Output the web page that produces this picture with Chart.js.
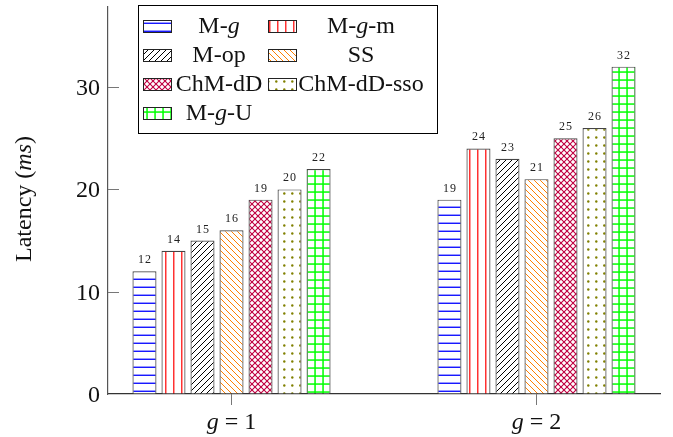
<!DOCTYPE html>
<html><head><meta charset="utf-8">
<script src="https://cdn.jsdelivr.net/npm/chart.js@4.4.1/dist/chart.umd.min.js"></script>
<style>html,body{margin:0;padding:0;background:#fff;} #wrap{width:673px;height:437px;}</style>
</head><body><div id="wrap"><canvas id="c" width="673" height="437"></canvas></div>
<script>
// ---- data ----
const categories = [1, 2];
const categoryLabels = ['1', '2'];
const seriesNames = ['M-g', 'M-g-m', 'M-op', 'SS', 'ChM-dD', 'ChM-dD-sso', 'M-g-U'];
const valuesMg = [12, 19];
const valuesMgm = [14, 24];
const valuesMop = [15, 23];
const valuesSS = [16, 21];
const valuesChMdD = [19, 25];
const valuesChMdDsso = [20, 26];
const valuesMgU = [22, 32];
const yTicks = [0, 10, 20, 30];
const yMax = 37.83;
const xMin = 0.595, xMax = 2.405;
const seriesValues = [valuesMg, valuesMgm, valuesMop, valuesSS, valuesChMdD, valuesChMdDsso, valuesMgU];

// ---- patterns ----
function makePattern(size, draw) {
  const c = document.createElement('canvas');
  c.width = size; c.height = size;
  const g = c.getContext('2d');
  g.fillStyle = '#fff'; g.fillRect(0, 0, size, size);
  draw(g, size);
  return c.getContext('2d').createPattern(c, 'repeat');
}
function diag(g, s, dir, color, lw) {
  g.strokeStyle = color; g.lineWidth = lw;
  g.beginPath();
  for (let k = -1; k <= 1; k++) {
    if (dir > 0) { g.moveTo(k * s - 1, s + 1); g.lineTo(k * s + s + 1, -1); }
    else { g.moveTo(k * s - 1, -1); g.lineTo(k * s + s + 1, s + 1); }
  }
  g.stroke();
}
const patterns = [
  makePattern(8, (g) => { g.fillStyle = '#0000ff'; g.fillRect(0, 6.6, 8, 1.3); }),
  makePattern(8, (g) => { g.fillStyle = '#ff0000'; g.fillRect(5.2, 0, 1.2, 8); }),
  makePattern(6, (g, s) => diag(g, s, 1, '#000', 1)),
  makePattern(6, (g, s) => diag(g, s, -1, '#ff8000', 1)),
  makePattern(6, (g, s) => { diag(g, s, 1, '#bf0040', 1.1); diag(g, s, -1, '#bf0040', 1.1); }),
  makePattern(8, (g) => { g.fillStyle = '#808000'; g.beginPath(); g.arc(4.3, 1.5, 1.2, 0, Math.PI * 2); g.fill(); }),
  makePattern(8, (g) => { g.fillStyle = '#00ff00'; g.fillRect(2.3, 0, 1.5, 8); g.fillRect(0, 7.3, 8, 0.7); g.fillRect(0, 0, 8, 0.8); })
];

const FONT = '"Liberation Serif", "DejaVu Serif", serif';

function drawParts(ctx, parts, x, y, size, align) {
  let total = 0;
  const widths = parts.map(([t, it]) => { ctx.font = (it ? 'italic ' : '') + size + 'px ' + FONT; const w = ctx.measureText(t).width; total += w; return w; });
  let cx = align === 'center' ? x - total / 2 : x;
  ctx.textAlign = 'left';
  parts.forEach(([t, it], i) => { ctx.font = (it ? 'italic ' : '') + size + 'px ' + FONT; ctx.fillText(t, cx, y); cx += widths[i]; });
}
function nameParts(name) {
  const segs = name.split('-');
  const parts = [];
  segs.forEach((s, i) => {
    const pre = i > 0 ? '-' : '';
    if (s === 'g') { if (pre) parts.push([pre, false]); parts.push(['g', true]); }
    else parts.push([pre + s, false]);
  });
  return parts;
}

const customDraw = {
  id: 'customDraw',
  beforeDraw(chart) {
    const ctx = chart.ctx; ctx.save(); ctx.fillStyle = '#fff'; ctx.fillRect(0, 0, chart.width, chart.height); ctx.restore();
  },
  afterDatasetsDraw(chart) {
    const ctx = chart.ctx; ctx.save();
    ctx.fillStyle = '#222'; ctx.font = '12px ' + FONT; ctx.textAlign = 'center'; ctx.textBaseline = 'alphabetic';
    try { ctx.letterSpacing = '1px'; } catch (e) {}
    chart.data.datasets.forEach((ds, di) => {
      chart.getDatasetMeta(di).data.forEach((el, i) => {
        ctx.fillText(String(ds.data[i].y), el.x + 0.5, el.y - 8);
      });
    });
    ctx.restore();
  },
  afterDraw(chart) {
    const ctx = chart.ctx; const ys = chart.scales.y; const xs = chart.scales.x; const ca = chart.chartArea;
    ctx.save();
    ctx.strokeStyle = '#777'; ctx.lineWidth = 1;
    yTicks.forEach(v => {
      const py = Math.round(ys.getPixelForValue(v)) + 0.5;
      if (v !== 0) { ctx.beginPath(); ctx.moveTo(ca.left, py); ctx.lineTo(ca.left + 11, py); ctx.stroke(); }
      ctx.fillStyle = '#111'; ctx.font = '24px ' + FONT; ctx.textAlign = 'right'; ctx.textBaseline = 'middle';
      ctx.fillText(String(v), ca.left - 8, py + 1);
    });
    ctx.save(); ctx.translate(31, 199); ctx.rotate(-Math.PI / 2);
    ctx.fillStyle = '#111'; ctx.textBaseline = 'alphabetic';
    drawParts(ctx, [['Latency (', false], ['ms', true], [')', false]], 0, 0, 24, 'center');
    ctx.restore();
    ctx.fillStyle = '#111'; ctx.textBaseline = 'alphabetic';
    categories.forEach((c, i) => {
      const px = xs.getPixelForValue(c);
      drawParts(ctx, [['g', true], [' = ' + categoryLabels[i], false]], px, 429, 24, 'center');
    });
    ctx.fillStyle = '#fff'; ctx.fillRect(138.5, 5.5, 299, 128);
    ctx.strokeStyle = '#000'; ctx.lineWidth = 1; ctx.strokeRect(138.5, 5.5, 299, 128);
    const colSw = [143, 268], colTxt = [219, 361];
    seriesNames.forEach((name, i) => {
      const col = i % 2, row = Math.floor(i / 2);
      const cy = 26 + row * 29;
      ctx.fillStyle = patterns[i]; ctx.fillRect(colSw[col], cy - 6, 28, 12);
      ctx.strokeStyle = '#222'; ctx.lineWidth = 1; ctx.strokeRect(colSw[col] + 0.5, cy - 6 + 0.5, 28, 12);
      ctx.fillStyle = '#111'; ctx.textBaseline = 'alphabetic';
      drawParts(ctx, nameParts(name), colTxt[col], cy + 7, 24, 'center');
    });
    ctx.restore();
  }
};

const datasets = seriesNames.map((name, i) => ({
  label: name,
  data: categories.map((c, j) => ({ x: c, y: seriesValues[i][j] })),
  backgroundColor: patterns[i],
  borderColor: '#444',
  borderWidth: 1.2,
  categoryPercentage: 0.666,
  barPercentage: 0.828
}));

new Chart(document.getElementById('c'), {
  type: 'bar',
  data: { datasets },
  options: {
    responsive: false,
    animation: false,
    layout: { padding: { top: 7, right: 13, left: 0, bottom: 0 } },
    plugins: { legend: { display: false }, tooltip: { enabled: false } },
    scales: {
      x: {
        type: 'linear', min: xMin, max: xMax, offset: false,
        afterBuildTicks: (s) => { s.ticks = categories.map(v => ({ value: v })); },
        afterFit: (s) => { s.height = 43; },
        ticks: { display: false },
        grid: { display: true, offset: false, drawOnChartArea: false, drawTicks: true, tickLength: 11, color: '#777', lineWidth: 1 },
        border: { display: true, color: '#333', width: 1.2 }
      },
      y: {
        type: 'linear', min: 0, max: yMax,
        afterBuildTicks: (s) => { s.ticks = yTicks.map(v => ({ value: v })); },
        afterFit: (s) => { s.width = 108; },
        ticks: { display: false },
        grid: { display: true, offset: false, drawOnChartArea: false, drawTicks: false },
        border: { display: true, color: '#555', width: 1.2 }
      }
    }
  },
  plugins: [customDraw]
});
</script></body></html>
